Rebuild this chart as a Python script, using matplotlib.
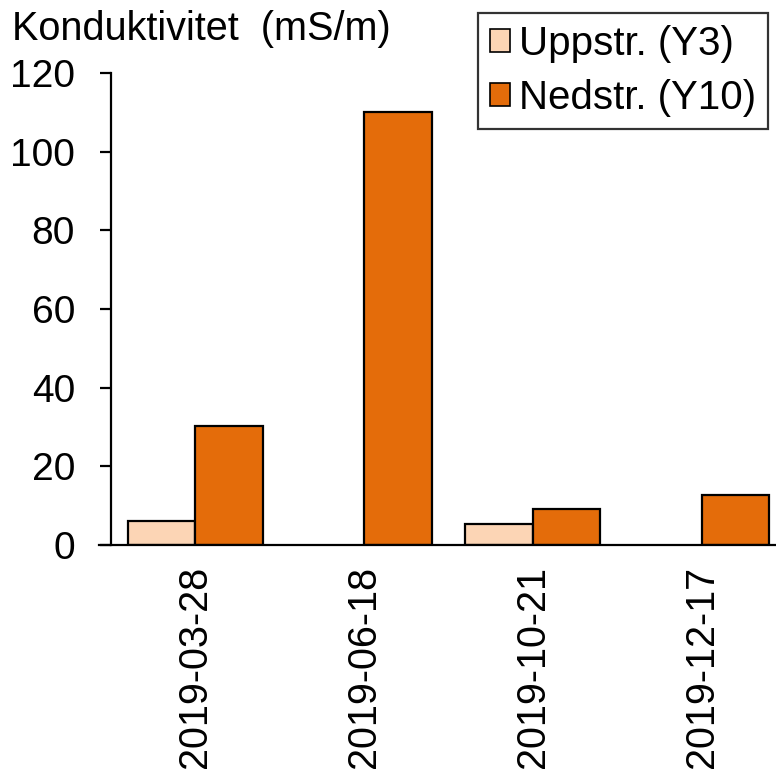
import matplotlib
matplotlib.use("Agg")
import matplotlib.pyplot as plt
import numpy as np
from matplotlib.patches import Patch

dates = ["2019-03-28", "2019-06-18", "2019-10-21", "2019-12-17"]
uppstr = [6.0, np.nan, 5.3, np.nan]
nedstr = [30.2, 110.2, 9.1, 12.8]
yticks = [0, 20, 40, 60, 80, 100, 120]

plt.rcParams['font.family'] = ['Liberation Sans', 'DejaVu Sans']

fig = plt.figure(figsize=(7.76, 7.76), dpi=100)
ax = fig.add_axes([111/776, 1-545/776, (786-111)/776, (545-73)/776])

x = np.arange(len(dates))
w = 0.4
c1 = "#FCD5B5"
c2 = "#E46C0A"
ax.bar(x - w/2, uppstr, w, color=c1, edgecolor="black", linewidth=1.6)
ax.bar(x + w/2, nedstr, w, color=c2, edgecolor="black", linewidth=1.6)

ax.set_xlim(-0.5, 3.5)
ax.set_ylim(0, 120)
ax.set_yticks(yticks)
ax.set_yticklabels([str(v) for v in yticks], fontsize=28)
ax.set_xticks(x)
ax.set_xticklabels(dates, rotation=90, fontsize=28.5)
ax.tick_params(axis='y', direction='out', length=8, width=1.6, pad=18)
ax.tick_params(axis='x', length=0, pad=15)
for s in ['top', 'right']:
    ax.spines[s].set_visible(False)
ax.spines['left'].set_linewidth(1.6)
ax.spines['bottom'].set_linewidth(1.6)
ax.spines['bottom'].set_bounds(-0.57, 3.5)

fig.text(12/776, 1-40/776, "Konduktivitet  (mS/m)", fontsize=28.5, va='baseline', ha='left')

handles = [Patch(facecolor=c1, edgecolor='black', linewidth=1.2, label="Uppstr. (Y3)"),
           Patch(facecolor=c2, edgecolor='black', linewidth=1.2, label="Nedstr. (Y10)")]
leg = fig.legend(handles=handles, loc='upper right', bbox_to_anchor=(768/776, 1-13/776),
                 fontsize=29, frameon=True, fancybox=False, edgecolor='black',
                 handlelength=0.5, handleheight=0.5, handletextpad=0.22,
                 borderpad=0.3, labelspacing=0.4, borderaxespad=0.0)
leg.get_frame().set_linewidth(1.6)

fig.savefig("out.png", dpi=100)
